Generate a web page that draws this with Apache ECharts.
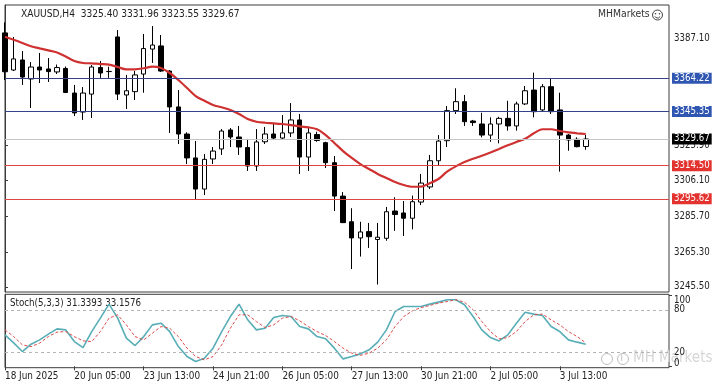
<!DOCTYPE html>
<html><head><meta charset="utf-8">
<script src="https://cdn.jsdelivr.net/npm/echarts@6/dist/echarts.min.js"></script>
<style>html,body{margin:0;padding:0;background:#fff}#c{width:719px;height:390px}</style>
</head><body><div id="c"></div>
<script>
// ---------------- data ----------------
const symbolName = 'XAUUSD,H4';
const lastOHLC = [3325.40, 3331.96, 3323.55, 3329.67];
const stochName = 'Stoch(5,3,3)';
const stochLast = ['31.3393', '33.1576'];
const tickLabels = ['18 Jun 2025','20 Jun 05:00','23 Jun 13:00','24 Jun 21:00','26 Jun 05:00','27 Jun 13:00','30 Jun 21:00','2 Jul 05:00','3 Jul 13:00'];
const tickBars = [0,8,16,24,32,40,48,56,64];
const opens  = [3390.0,3368.9,3374.6,3363.8,3370.6,3369.5,3367.8,3369.8,3355.8,3345.0,3355.2,3370.3,3368.0,3387.7,3354.7,3356.6,3366.6,3380.8,3382.6,3368.3,3347.9,3332.5,3318.9,3301.2,3318.3,3324.0,3334.8,3330.8,3324.8,3314.3,3328.1,3332.5,3330.2,3333.1,3340.5,3319.4,3332.2,3327.6,3316.2,3297.2,3282.6,3273.4,3277.0,3272.5,3273.2,3288.7,3287.6,3284.6,3293.8,3302.4,3317.3,3328.7,3345.8,3350.9,3339.9,3338.2,3331.9,3338.2,3341.4,3337.1,3349.6,3357.5,3346.2,3359.4,3346.2,3331.9,3329.5,3325.40];
const closes = [3367.9,3375.2,3364.9,3370.6,3368.9,3368.0,3370.3,3356.1,3344.5,3355.8,3370.6,3367.2,3368.1,3355.2,3357.1,3366.1,3381.1,3383.1,3368.3,3347.9,3332.5,3318.9,3301.2,3318.1,3322.8,3334.2,3330.8,3325.1,3314.3,3328.0,3332.5,3330.2,3333.1,3340.5,3319.4,3333.1,3328.8,3316.2,3297.2,3282.1,3273.4,3276.8,3274.1,3273.8,3288.3,3286.7,3284.6,3294.0,3304.6,3317.3,3328.5,3345.8,3350.9,3339.5,3339.0,3331.9,3338.2,3341.4,3337.1,3349.6,3357.1,3345.2,3359.4,3345.2,3331.9,3329.1,3325.3,3329.67];
const lows   = [3363.2,3368.3,3360.4,3347.3,3361.5,3362.1,3366.6,3355.8,3342.7,3340.5,3341.6,3364.4,3364.4,3351.8,3346.7,3351.8,3356.0,3372.9,3367.8,3333.1,3326.8,3315.4,3295.0,3297.8,3315.4,3320.6,3325.1,3320.6,3311.5,3311.5,3326.8,3329.1,3329.1,3330.8,3309.8,3311.5,3328.1,3313.2,3288.7,3281.9,3255.7,3262.8,3267.7,3246.9,3271.8,3277.4,3274.5,3278.3,3292.1,3301.2,3314.3,3325.1,3343.9,3337.1,3337.1,3330.6,3328.1,3327.2,3334.4,3334.4,3349.0,3342.0,3345.2,3343.9,3311.1,3323.0,3324.9,3323.55];
const highs  = [3396.0,3387.7,3379.7,3373.4,3378.6,3375.7,3372.0,3370.9,3360.4,3359.2,3371.7,3374.0,3370.8,3391.6,3366.1,3368.3,3389.4,3393.9,3388.8,3368.9,3357.5,3333.5,3328.5,3321.1,3325.1,3335.3,3335.9,3337.1,3329.7,3335.3,3336.5,3338.2,3343.3,3350.1,3343.9,3336.5,3333.8,3328.1,3320.0,3299.5,3290.3,3282.6,3281.9,3281.9,3291.0,3296.5,3294.4,3297.5,3309.8,3320.6,3331.9,3348.4,3358.5,3354.7,3340.5,3344.6,3342.0,3342.3,3351.4,3350.9,3359.8,3367.4,3360.9,3364.2,3356.0,3332.5,3330.6,3331.96];
const maLine = [3387.8,3386.1,3384.3,3382.4,3381.2,3380.1,3378.9,3376.6,3374.0,3372.9,3372.7,3372.3,3372.0,3370.6,3369.3,3369.3,3369.9,3370.8,3370.0,3367.2,3363.2,3358.7,3354.1,3351.4,3349.0,3347.7,3346.2,3343.9,3341.0,3339.5,3338.9,3338.6,3338.2,3337.6,3336.8,3336.3,3335.2,3331.9,3327.4,3322.8,3318.9,3315.4,3312.6,3309.8,3307.5,3305.2,3303.5,3302.5,3302.6,3304.5,3306.9,3311.1,3314.1,3316.6,3318.4,3320.1,3322.0,3324.0,3326.1,3328.0,3329.8,3332.9,3335.2,3335.2,3334.2,3333.4,3332.9,3332.5];
const stochK = [44.5,33.2,20.9,31.3,37.4,45.5,53.0,51.6,35.0,26.5,49.2,68.2,88.0,68.2,39.9,29.4,42.1,58.7,61.1,49.2,27.9,13.8,6.7,11.5,25.7,49.2,70.5,88.0,65.8,51.6,54.0,69.1,71.9,70.5,56.3,53.0,42.1,38.9,25.7,10.5,13.8,17.6,23.3,34.2,51.6,77.6,84.7,84.7,84.7,88.1,90.9,94.2,94.2,87.1,70.5,51.6,40.7,36.0,44.5,61.1,76.7,73.9,71.9,56.3,49.2,37.4,34.2,31.34];
const stochD = [51.6,42.1,30.4,27.9,32.8,42.1,48.4,49.2,42.1,36.0,35.0,49.2,68.2,72.9,58.7,42.1,37.4,46.9,56.3,54.0,42.1,25.7,13.8,9.1,13.8,30.4,54.0,72.9,72.9,63.4,54.9,58.7,68.2,70.5,64.4,56.3,49.2,43.5,35.0,25.7,18.6,15.5,18.6,25.7,37.4,56.3,70.5,78.6,83.2,86.1,89.5,91.8,94.2,90.9,80.0,63.4,49.2,38.9,40.7,49.2,63.4,72.9,73.9,65.8,58.7,49.2,42.1,33.16];
const priceTicks = [3387.10, 3325.90, 3306.10, 3285.70, 3265.30, 3245.50];
const blueLevels = [3364.22, 3345.35];
const redLevels = [3314.50, 3295.62];
const bidLevel = 3329.67;
const stochInnerTicks = [20, 80];
const stochEdgeTicks = [0, 100];
const stochLevels = [20, 80];
const brand = 'MHMarkets';

// ---------------- fonts ----------------
const FAM = "'Liberation Sans Narrow','DejaVu Sans Condensed','Liberation Sans',Arial,sans-serif";
const mctx = document.createElement('canvas').getContext('2d');
function fit(text, w) { mctx.font = '20px ' + FAM; return Math.round(200 * w / mctx.measureText(text).width) / 10; }
const headerText = symbolName + '  ' + lastOHLC.map(v => v.toFixed(2)).join(' ');
const stochText = stochName + ' ' + stochLast.join(' ');
const axisFs = Math.min(12, fit('20 Jun 05:00', 56.7));
const priceFs = Math.min(12, fit('3387.10', 35.7));
const headFs = Math.min(12, fit(headerText, 218));
const stochFs = Math.min(12, fit(stochText, 131.7));
const brandFs = Math.min(12, fit(brand, 51.7));

// ---------------- build ----------------
const candles = opens.map((o, i) => [i, o, closes[i], lows[i], highs[i]]);
const maData = maLine.map((v, i) => [i, v]);
const kData = stochK.map((v, i) => [i, v]);
const dData = stochD.map((v, i) => [i, v]);
const XMAX = 76.6;
const BORDER = '#3c3c3c';

function levelMark(levels, lineColor, bg) {
  return {
    silent: true, symbol: ['none', 'none'], animation: false, z: 5,
    lineStyle: { color: lineColor, width: 1.2, type: 'solid', opacity: 1 },
    emphasis: { disabled: true },
    label: { show: true, position: 'end', distance: 3, color: '#fff', backgroundColor: bg,
      padding: [1, 2, 0, 2], fontSize: priceFs, fontFamily: FAM, formatter: p => p.value.toFixed(2) },
    data: levels.map(v => ({ yAxis: v }))
  };
}
const stochAxisBase = { type: 'value', gridIndex: 1, position: 'right', min: -2, max: 102, splitLine: { show: false } };

const chart = echarts.init(document.getElementById('c'), null, { renderer: 'canvas' });
chart.setOption({
  animation: false,
  backgroundColor: '#ffffff',
  grid: [
    { left: 5, top: 5, width: 664, height: 287, show: true, borderColor: BORDER, borderWidth: 1, backgroundColor: 'transparent' },
    { left: 5, top: 294.3, width: 664, height: 73.4, show: true, borderColor: BORDER, borderWidth: 1, backgroundColor: 'transparent' }
  ],
  xAxis: [
    { type: 'value', gridIndex: 0, min: 0, max: XMAX, axisLine: { show: false }, axisTick: { show: false }, axisLabel: { show: false }, splitLine: { show: false } },
    { type: 'value', gridIndex: 1, min: 0, max: XMAX,
      axisLine: { show: false },
      axisTick: { show: true, customValues: tickBars, length: 4, inside: false, lineStyle: { color: BORDER } },
      axisLabel: { show: true, customValues: tickBars, align: 'left', margin: 4, color: '#222', fontSize: axisFs, fontFamily: FAM, hideOverlap: false,
        formatter: v => tickLabels[tickBars.indexOf(Math.round(v))] || '' },
      splitLine: { show: false } }
  ],
  yAxis: [
    { type: 'value', gridIndex: 0, position: 'right', min: 3242.65, max: 3405.87,
      axisLine: { show: true, lineStyle: { color: BORDER } },
      axisTick: { show: true, customValues: priceTicks, length: 3, lineStyle: { color: BORDER } },
      axisLabel: { show: true, customValues: priceTicks, margin: 5, color: '#222', fontSize: priceFs, fontFamily: FAM, hideOverlap: false, formatter: v => v.toFixed(2) },
      splitLine: { show: false } },
    Object.assign({}, stochAxisBase, {
      axisLine: { show: true, lineStyle: { color: BORDER } },
      axisTick: { show: true, customValues: stochInnerTicks, length: 3, lineStyle: { color: BORDER } },
      axisLabel: { show: true, customValues: stochInnerTicks, margin: 5, color: '#222', fontSize: priceFs, fontFamily: FAM, hideOverlap: false } }),
    Object.assign({}, stochAxisBase, {
      axisLine: { show: false },
      axisTick: { show: true, customValues: stochEdgeTicks, length: 3, lineStyle: { color: BORDER } },
      axisLabel: { show: true, customValues: stochEdgeTicks, margin: 5, color: '#222', fontSize: priceFs, fontFamily: FAM, hideOverlap: false,
        showMinLabel: true, showMaxLabel: true,
        formatter: v => v === 100 ? '{a|100}' : '{b|0}',
        rich: { a: { padding: [9, 0, 0, 0], fontSize: priceFs, fontFamily: FAM, color: '#222' },
                b: { padding: [0, 0, 6, 0], fontSize: priceFs, fontFamily: FAM, color: '#222' } } } })
  ],
  series: [
    { type: 'candlestick', xAxisIndex: 0, yAxisIndex: 0, data: candles, barWidth: 5, clip: true,
      encode: { x: 0, y: [1, 2, 3, 4] },
      itemStyle: { color: '#ffffff', color0: '#000000', borderColor: '#000000', borderColor0: '#000000', borderWidth: 1 },
      markLine: levelMark(blueLevels, '#34428a', '#2f56b0') },
    { type: 'line', xAxisIndex: 0, yAxisIndex: 0, data: maData, showSymbol: false, smooth: 0.3,
      lineStyle: { color: '#cf3131', width: 2.2 }, z: 4,
      markLine: levelMark(redLevels, '#dd4444', '#e3332f') },
    { type: 'line', xAxisIndex: 0, yAxisIndex: 0, data: [], showSymbol: false, z: 1,
      markLine: levelMark([bidLevel], '#c4c4c4', '#000000') },
    { type: 'line', xAxisIndex: 1, yAxisIndex: 1, data: kData, showSymbol: false,
      lineStyle: { color: '#58aeb6', width: 1.6 },
      markLine: { silent: true, symbol: ['none', 'none'], label: { show: false },
        lineStyle: { color: '#b4b4b4', type: [3, 3], width: 1 }, data: stochLevels.map(v => ({ yAxis: v })) } },
    { type: 'line', xAxisIndex: 1, yAxisIndex: 1, data: dData, showSymbol: false,
      lineStyle: { color: '#dd4b4b', width: 1, type: [3, 2] } }
  ],
  graphic: [
    { type: 'text', left: 21, top: 9, style: { text: headerText, fill: '#222', fontSize: headFs, fontFamily: FAM } },
    { type: 'text', left: 598, top: 9, style: { text: brand, fill: '#333', fontSize: brandFs, fontFamily: FAM } },
    { type: 'circle', shape: { cx: 657.5, cy: 15, r: 5 }, style: { fill: 'none', stroke: '#444', lineWidth: 1 } },
    { type: 'circle', shape: { cx: 655.5, cy: 13.7, r: 0.8 }, style: { fill: '#444' } },
    { type: 'circle', shape: { cx: 659.5, cy: 13.7, r: 0.8 }, style: { fill: '#444' } },
    { type: 'arc', shape: { cx: 657.5, cy: 15, r: 3, startAngle: 0.5, endAngle: Math.PI - 0.5 }, style: { stroke: '#444', fill: 'none', lineWidth: 1 } },
    { type: 'text', left: 10, top: 298, style: { text: stochText, fill: '#222', fontSize: stochFs, fontFamily: FAM } },
    { type: 'circle', shape: { cx: 607, cy: 359, r: 5.5 }, style: { fill: 'none', stroke: '#bdbdbd', lineWidth: 1 } },
    { type: 'circle', shape: { cx: 623, cy: 359, r: 5.5 }, style: { fill: 'none', stroke: '#bdbdbd', lineWidth: 1 } },
    { type: 'text', left: 620.5, top: 353, style: { text: 'i', fill: '#bdbdbd', fontSize: 10, fontFamily: FAM } },
    { type: 'text', left: 633, top: 351, style: { text: 'MH Markets', fill: '#d6d6d6', fontSize: 15, fontFamily: FAM } }
  ]
});
</script></body></html>
